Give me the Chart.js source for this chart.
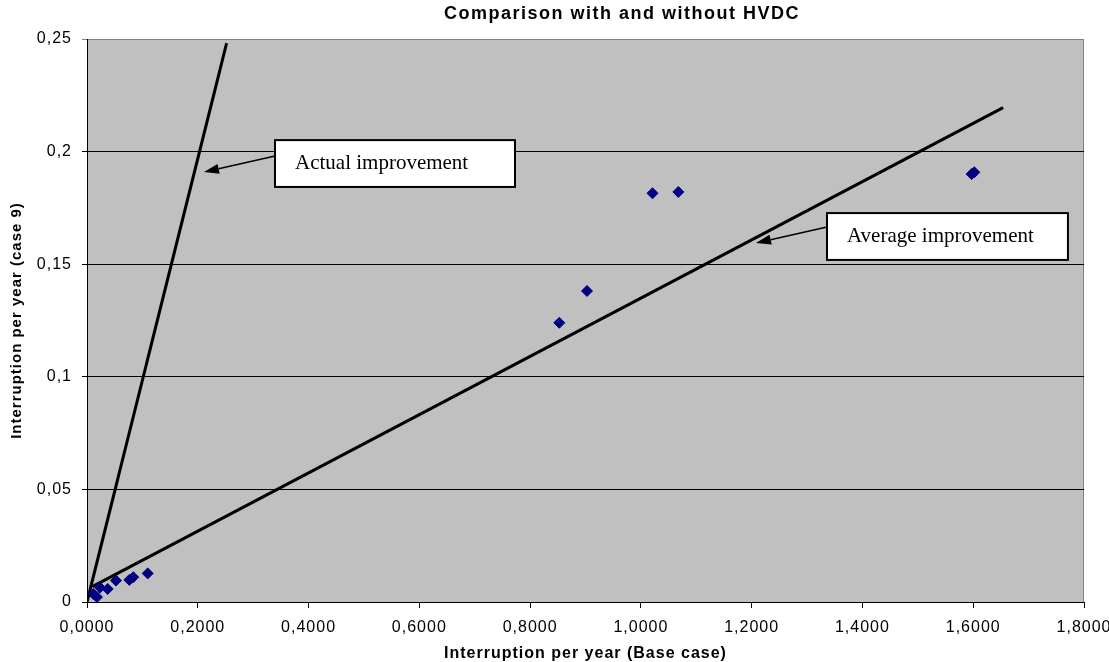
<!DOCTYPE html>
<html>
<head>
<meta charset="utf-8">
<title>Comparison with and without HVDC</title>
<script src="https://cdn.jsdelivr.net/npm/chart.js@4.4.0/dist/chart.umd.min.js"></script>
<style>
  html, body { margin: 0; padding: 0; background: #fff; }
  canvas { display: block; }
</style>
</head>
<body>
<canvas id="hvdcChart" width="1109" height="662"></canvas>
<script>
// Interruptions per year for each point: base case (x) and case 9 (y)
const baseCase = [0.0114, 0.018, 0.0235, 0.0373, 0.0524, 0.0764, 0.0836, 0.1096,
                  0.8527, 0.9027, 1.021, 1.0676, 1.597, 1.602];
const case9 = [0.0036, 0.0022, 0.0064, 0.0058, 0.0095, 0.0098, 0.011, 0.0127,
               0.124, 0.1381, 0.1815, 0.1821, 0.190, 0.1908];

// Improvement lines (start and end points)
const actualX = [0, 0.2521];
const actualY = [0, 0.2482];
const averageX = [0.0096, 1.654];
const averageY = [0.0068, 0.2195];

// Axis ticks
const xTicks = [0, 0.2, 0.4, 0.6, 0.8, 1.0, 1.2, 1.4, 1.6, 1.8];
const xTickLabels = ['0,0000', '0,2000', '0,4000', '0,6000', '0,8000', '1,0000', '1,2000', '1,4000', '1,6000', '1,8000'];
const yTicks = [0, 0.05, 0.1, 0.15, 0.2, 0.25];
const yTickLabels = ['0', '0,05', '0,1', '0,15', '0,2', '0,25'];

const toPoints = (xs, ys) => xs.map((x, i) => ({ x: x, y: ys[i] }));

// Callout boxes with arrows, placed in data units
const callouts = [
    { text: 'Actual improvement', box: [0.3394, 0.2051, 0.7727, 0.1843], tail: [0.3394, 0.198], head: [0.2112, 0.1909] },
    { text: 'Average improvement', box: [1.336, 0.1727, 1.771, 0.1519], tail: [1.336, 0.1665], head: [1.2078, 0.1594] }
];

const sansFont = '"Liberation Sans", Arial, sans-serif';

const plotBackground = {
    id: 'plotBackground',
    beforeDraw(chart) {
        const { ctx, chartArea: a } = chart;
        ctx.letterSpacing = '1px';
        ctx.save();
        ctx.fillStyle = '#c0c0c0';
        ctx.fillRect(a.left, a.top, a.right - a.left, a.bottom - a.top);
        ctx.strokeStyle = '#808080';
        ctx.lineWidth = 1;
        ctx.strokeRect(a.left + 0.5, a.top + 0.5, a.right - a.left - 1, a.bottom - a.top);
        ctx.restore();
    }
};

const calloutPlugin = {
    id: 'callouts',
    afterDraw(chart) {
        const { ctx, scales: { x, y } } = chart;
        ctx.save();
        ctx.letterSpacing = '0px';
        callouts.forEach((c) => {
            const l = x.getPixelForValue(c.box[0]);
            const t = y.getPixelForValue(c.box[1]);
            const r = x.getPixelForValue(c.box[2]);
            const b = y.getPixelForValue(c.box[3]);

            // arrow
            const tx = x.getPixelForValue(c.tail[0]);
            const ty = y.getPixelForValue(c.tail[1]);
            const hx = x.getPixelForValue(c.head[0]);
            const hy = y.getPixelForValue(c.head[1]);
            const ang = Math.atan2(hy - ty, hx - tx);
            const len = 15, half = 5;
            const bx = hx - Math.cos(ang) * len;
            const by = hy - Math.sin(ang) * len;
            ctx.strokeStyle = '#000';
            ctx.lineWidth = 1.5;
            ctx.beginPath();
            ctx.moveTo(tx, ty);
            ctx.lineTo(bx, by);
            ctx.stroke();
            ctx.fillStyle = '#000';
            ctx.beginPath();
            ctx.moveTo(hx, hy);
            ctx.lineTo(bx - Math.sin(ang) * half, by + Math.cos(ang) * half);
            ctx.lineTo(bx + Math.sin(ang) * half, by - Math.cos(ang) * half);
            ctx.closePath();
            ctx.fill();

            // box
            ctx.fillStyle = '#fff';
            ctx.fillRect(l, t, r - l, b - t);
            ctx.lineWidth = 2;
            ctx.strokeRect(l, t, r - l, b - t);

            ctx.fillStyle = '#000';
            ctx.font = '21px "Liberation Serif", "Times New Roman", serif';
            ctx.textAlign = 'left';
            ctx.textBaseline = 'middle';
            ctx.fillText(c.text, l + 20, (t + b) / 2);
        });

        // chart title
        ctx.letterSpacing = '1.5px';
        ctx.font = 'bold 18px ' + sansFont;
        ctx.textAlign = 'center';
        ctx.textBaseline = 'middle';
        ctx.fillText('Comparison with and without HVDC', 622, 14);
        ctx.restore();
    }
};

new Chart(document.getElementById('hvdcChart'), {
    type: 'scatter',
    data: {
        datasets: [{
            label: 'Interruptions',
            data: toPoints(baseCase, case9),
            pointStyle: 'rectRot',
            pointRadius: 5.5,
            backgroundColor: '#000080',
            borderColor: '#000080',
            borderWidth: 1
        }, {
            label: 'Actual improvement',
            data: toPoints(actualX, actualY),
            showLine: true,
            pointRadius: 0,
            borderColor: '#000',
            borderWidth: 3
        }, {
            label: 'Average improvement',
            data: toPoints(averageX, averageY),
            showLine: true,
            pointRadius: 0,
            borderColor: '#000',
            borderWidth: 3
        }]
    },
    options: {
        responsive: false,
        animation: false,
        events: [],
        layout: { padding: { top: 39, right: 25, left: 0, bottom: 0 } },
        plugins: {
            legend: { display: false },
            tooltip: { enabled: false }
        },
        scales: {
            x: {
                type: 'linear',
                min: 0,
                max: 1.8,
                afterBuildTicks: (scale) => { scale.ticks = xTicks.map(v => ({ value: v })); },
                afterFit: (scale) => { scale.height = 60; scale.paddingLeft = 0; scale.paddingRight = 0; },
                grid: { drawOnChartArea: false, tickLength: 6, color: '#000' },
                border: { color: '#000', width: 1 },
                ticks: {
                    autoSkip: false,
                    maxRotation: 0,
                    padding: 10,
                    color: '#000',
                    font: { family: sansFont, size: 16 },
                    callback: (value, index) => xTickLabels[index]
                },
                title: {
                    display: true,
                    text: 'Interruption per year (Base case)',
                    color: '#000',
                    font: { family: sansFont, size: 16, weight: 'bold', lineHeight: 1 },
                    padding: { top: 0, bottom: 0 }
                }
            },
            y: {
                type: 'linear',
                min: 0,
                max: 0.25,
                afterBuildTicks: (scale) => { scale.ticks = yTicks.map(v => ({ value: v })); },
                afterFit: (scale) => { scale.width = 87; scale.paddingTop = 0; scale.paddingBottom = 0; },
                grid: {
                    tickLength: 5,
                    color: (ctx) => (ctx.tick && ctx.tick.value >= 0.25 ? '#808080' : '#000')
                },
                border: { color: '#000', width: 1 },
                ticks: {
                    autoSkip: false,
                    padding: 10,
                    color: '#000',
                    font: { family: sansFont, size: 16 },
                    callback: (value, index) => yTickLabels[index]
                },
                title: {
                    display: true,
                    text: 'Interruption per year (case 9)',
                    color: '#000',
                    font: { family: sansFont, size: 15, weight: 'bold', lineHeight: 1.1 },
                    padding: { top: 8.5, bottom: 0 }
                }
            }
        }
    },
    plugins: [plotBackground, calloutPlugin]
});
</script>
</body>
</html>
